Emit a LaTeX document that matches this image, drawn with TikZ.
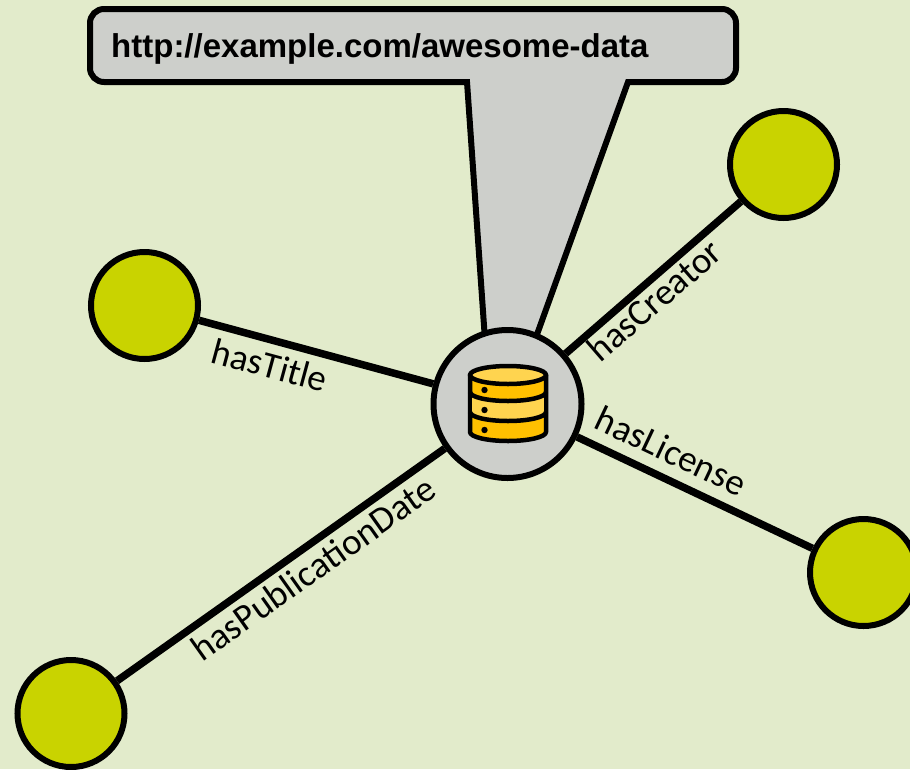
\documentclass[tikz,border=0pt]{standalone}
\usepackage{fontspec}
\usepackage{tikz}
\usetikzlibrary{positioning}
\newfontfamily\urlfont{Liberation Sans}
\newfontfamily\labelfont{Carlito}
\definecolor{bgcolor}{HTML}{E2EBCB}
\definecolor{greycolor}{HTML}{CDCFCB}
\definecolor{leafcolor}{HTML}{C9D300}
\definecolor{dbdark}{HTML}{FFC000}
\definecolor{dblight}{HTML}{FFD44F}
\tikzset{
    leaf/.style={circle, draw, line width=6pt, fill=leafcolor, minimum size=107pt, inner sep=0pt},
    hubnode/.style={circle, draw, line width=6pt, fill=greycolor, minimum size=148pt, inner sep=0pt},
    link/.style={line width=7.5pt},
    linklabel/.style={font=\labelfont\fontsize{37}{37}\selectfont, sloped, inner sep=0pt},
    dbline/.style={line width=4.5pt, line join=round}
}

\begin{document}
\begin{tikzpicture}[x=1pt, y=-1pt]
    \useasboundingbox (0, 0) rectangle (910, 769);
    \fill[bgcolor] (0, 0) rectangle (910, 769);
    % callout
    \draw[line width=6pt, fill=greycolor, line join=miter]
        (467, 82) [rounded corners=14pt] -- (90, 82) -- (90, 9) -- (736, 9) -- (736, 82)
        [sharp corners] -- (628, 82) -- (535, 340) -- (485, 340) -- cycle;
    \node[anchor=base west, inner sep=0pt, font=\urlfont\bfseries\fontsize{33}{33}\selectfont] (url) at (111, 57) {http://example.com/awesome-data};
    % nodes
    \node[hubnode] (hub) at (507.5, 404) {};
    \node[leaf] (creator) at (783.5, 164.5) {};
    \node[leaf] (title) at (144.5, 305.5) {};
    \node[leaf] (license) at (863.5, 572.5) {};
    \node[leaf] (date) at (71, 713.5) {};
    % links
    \draw[link] (hub) -- node[linklabel, below=8pt, pos=0.67] {hasTitle} (title);
    \draw[link] (hub) -- node[linklabel, below=1pt, pos=0.44] {hasCreator} (creator);
    \draw[link] (hub) -- node[linklabel, above=11pt, pos=0.35] {hasLicense} (license);
    \draw[link] (hub) -- node[linklabel, below=5pt, pos=0.44] {hasPublicationDate} (date);
    % database icon
    \draw[dbline, fill=dbdark] (470, 375) -- (470, 432) arc (180:360:38 and -9) -- (546, 375) -- cycle;
    \fill[dblight] (470, 392) arc (180:360:38 and -9) -- (546, 412) arc (0:-180:38 and -9) -- cycle;
    \draw[dbline, fill=dblight] (508, 375) ellipse (38 and 9);
    \draw[dbline] (470, 392) arc (180:360:38 and -9);
    \draw[dbline] (470, 412) arc (180:360:38 and -9);
    \draw[dbline] (470, 375) -- (470, 432);
    \draw[dbline] (546, 375) -- (546, 432);
    \foreach \y in {390, 410, 430} {
        \fill (484.5, \y) circle (3.2);
    }
\end{tikzpicture}
\end{document}
